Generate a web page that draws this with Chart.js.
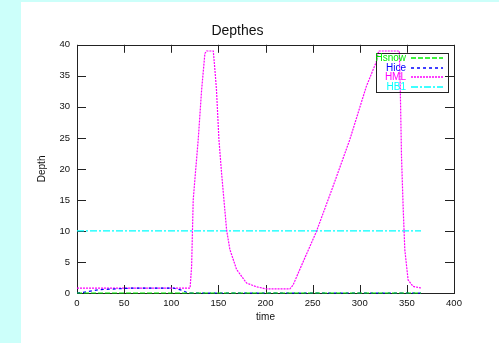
<!DOCTYPE html>
<html>
<head>
<meta charset="utf-8">
<script src="https://cdn.jsdelivr.net/npm/chart.js@4"></script>
<style>
  body { margin: 0; background: #ccfffa; }
  #wrap { position: absolute; left: 21px; top: 2px; width: 478px; height: 341px; background: #fff; }
</style>
</head>
<body>
<div id="wrap"><canvas id="myChart" width="478" height="341"></canvas></div>
<script>
// datos
const snowTime = [0, 365];
const snowDepth = [0, 0];

const iceTime = [0, 6.7, 24, 60, 102, 111, 118, 365];
const iceDepth = [0, 0.1, 0.54, 0.8, 0.8, 0.45, 0, 0];

const mlTime = [0, 120, 121.6, 123.3, 126, 128.6, 132.2, 135.7, 137.5, 144.6, 146.3, 148, 150.6, 153.4, 158.7,
  162.2, 169.3, 179.9, 190.5, 201, 225.8, 229.3, 236.4, 254, 271.7, 289.4, 307, 317.7, 320, 342, 343,
  344.3, 346, 347.8, 351.3, 356.6, 365];
const mlDepth = [0.8, 0.8, 4.3, 15, 20, 24.7, 32.7, 38.6, 39, 39, 36, 32.7, 24.7, 19.3, 10.2,
  7, 3.8, 1.6, 1, 0.65, 0.65, 1.3, 3.8, 9.9, 17.2, 24.7, 33.3, 37.3, 39, 39, 33,
  22, 14, 7, 2.1, 1.06, 0.8];

const b1Time = [0, 365];
const b1Depth = [10, 10];

const xTicks = [0, 50, 100, 150, 200, 250, 300, 350, 400];
const yTicks = [0, 5, 10, 15, 20, 25, 30, 35, 40];

function puntos(xs, ys) {
  return xs.map((x, i) => ({ x: x, y: ys[i] }));
}

const fuente = 'Liberation Sans, Arial, sans-serif';

// marco y marcas hacia dentro, estilo gnuplot
const marco = {
  id: 'marco',
  beforeDatasetsDraw(chart) {
    const { ctx, chartArea: a, scales } = chart;
    ctx.save();
    ctx.strokeStyle = '#222';
    ctx.lineWidth = 1;
    ctx.strokeRect(Math.round(a.left) + 0.5, Math.round(a.top) + 0.5,
      Math.round(a.right - a.left), Math.round(a.bottom - a.top));
    ctx.beginPath();
    xTicks.forEach(v => {
      const px = Math.round(scales.x.getPixelForValue(v)) + 0.5;
      ctx.moveTo(px, a.bottom); ctx.lineTo(px, a.bottom - 8);
      ctx.moveTo(px, a.top); ctx.lineTo(px, a.top + 8);
    });
    yTicks.forEach(v => {
      const py = Math.round(scales.y.getPixelForValue(v)) + 0.5;
      ctx.moveTo(a.left, py); ctx.lineTo(a.left + 9, py);
      ctx.moveTo(a.right, py); ctx.lineTo(a.right - 9, py);
    });
    ctx.stroke();
    ctx.restore();
  }
};

// leyenda dentro del area, como en gnuplot
const leyenda = {
  id: 'leyenda',
  afterDatasetsDraw(chart) {
    const ctx = chart.ctx;
    ctx.save();
    ctx.strokeStyle = '#222';
    ctx.lineWidth = 1;
    ctx.strokeRect(355.5, 51.5, 72, 39);
    ctx.font = '10px ' + fuente;
    ctx.textAlign = 'right';
    ctx.textBaseline = 'middle';
    chart.data.datasets.forEach((d, i) => {
      const y = Math.round(56 + i * 9.6);
      ctx.fillStyle = d.borderColor;
      ctx.fillText(d.label, 385, y);
      ctx.strokeStyle = d.borderColor;
      ctx.lineWidth = 1.5;
      ctx.setLineDash(d.borderDash);
      ctx.beginPath();
      ctx.moveTo(390, y);
      ctx.lineTo(422, y);
      ctx.stroke();
    });
    ctx.restore();
  }
};

const ctx = document.getElementById('myChart').getContext('2d');
new Chart(ctx, {
  type: 'line',
  data: {
    datasets: [
      { label: 'Hsnow', data: puntos(snowTime, snowDepth), borderColor: '#00ee00', borderDash: [5, 2] },
      { label: 'Hice', data: puntos(iceTime, iceDepth), borderColor: '#0000ff', borderDash: [3, 3] },
      { label: 'HML', data: puntos(mlTime, mlDepth), borderColor: '#ff00ff', borderDash: [2, 1] },
      { label: 'HB1', data: puntos(b1Time, b1Depth), borderColor: '#00ffff', borderDash: [7, 2, 2, 2] }
    ].map(d => Object.assign(d, { borderWidth: 1.2, pointRadius: 0, tension: 0, fill: false, clip: false }))
  },
  options: {
    responsive: false,
    animation: false,
    devicePixelRatio: 1,
    layout: { padding: { left: 0, right: 45, top: 0, bottom: 0 } },
    plugins: {
      legend: { display: false },
      tooltip: { enabled: false },
      title: {
        display: true,
        text: 'Depthes',
        color: '#111',
        font: { family: fuente, size: 14, weight: 'normal' },
        padding: { top: 21, bottom: 5 }
      }
    },
    scales: {
      x: {
        type: 'linear',
        min: 0, max: 400,
        grid: { display: false, drawTicks: false },
        border: { display: false },
        ticks: { stepSize: 50, padding: 5, color: '#111', font: { family: fuente, size: 9.5 }, maxRotation: 0 },
        title: { display: true, text: 'time', color: '#111', font: { family: fuente, size: 10 }, padding: { top: 0, bottom: 20 } },
        afterFit(s) { s.height = 50; }
      },
      y: {
        min: 0, max: 40,
        grid: { display: false, drawTicks: false },
        border: { display: false },
        ticks: { stepSize: 5, padding: 7, color: '#111', font: { family: fuente, size: 9.5 } },
        title: { display: true, text: 'Depth', color: '#111', font: { family: fuente, size: 10 }, padding: { top: 15, bottom: 0 } },
        afterFit(s) { s.width = 56; }
      }
    }
  },
  plugins: [marco, leyenda]
});
</script>
</body>
</html>
